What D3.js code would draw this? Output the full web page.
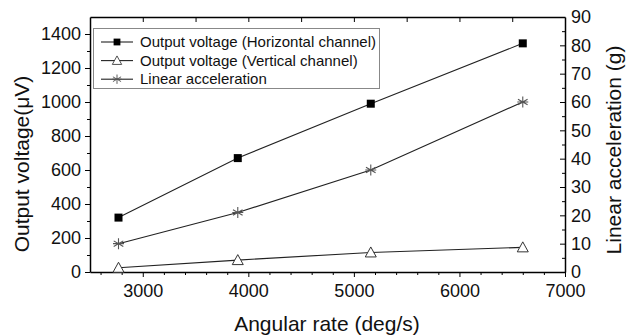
<!DOCTYPE html>
<html>
<head>
<meta charset="utf-8">
<script src="https://cdn.jsdelivr.net/npm/d3@7"></script>
<style>
  body { margin: 0; background: #fff; }
  svg, svg text { font-family: Arial, "Liberation Sans", sans-serif; }
  .axis path, .axis line { stroke: #000; }
  .axis text { fill: #111; font-family: Arial, "Liberation Sans", sans-serif; }
</style>
</head>
<body>
<div id="chart"></div>
<script>
// data
const angularRate = [2770, 3900, 5160, 6600];
const horizVoltage = [320, 670, 990, 1345];
const vertVoltage = [25, 70, 115, 145];
const linAccel = [10, 21, 36, 60];

const xTicks = [3000, 4000, 5000, 6000, 7000];
const yLeftTicks = [0, 200, 400, 600, 800, 1000, 1200, 1400];
const yRightTicks = [0, 10, 20, 30, 40, 50, 60, 70, 80, 90];
const legendLabels = ['Output voltage (Horizontal channel)', 'Output voltage (Vertical channel)', 'Linear acceleration'];

const width = 640, height = 336;
const margin = {top: 17, right: 75, bottom: 64, left: 90};

const svg = d3.select('#chart').append('svg')
  .attr('width', width)
  .attr('height', height);

const x = d3.scaleLinear().domain([2500, 7000]).range([margin.left, width - margin.right]);
const yL = d3.scaleLinear().domain([0, 1500]).range([height - margin.bottom, margin.top]);
const yR = d3.scaleLinear().domain([0, 90]).range([height - margin.bottom, margin.top]);

const fs = 18;

// bottom axis
const xMinor = d3.range(2600, 7001, 200).filter(v => v % 1000 !== 0);
svg.append('g').attr('class', 'axis')
  .attr('transform', 'translate(0,' + yL(0) + ')')
  .call(d3.axisBottom(x).tickValues(xMinor).tickSize(3).tickFormat(''))
  .call(g => g.select('.domain').remove());
svg.append('g').attr('class', 'axis')
  .attr('transform', 'translate(0,' + yL(0) + ')')
  .call(d3.axisBottom(x).tickValues(xTicks).tickSize(5).tickSizeOuter(0).tickPadding(7).tickFormat(d3.format('d')))
  .call(g => g.select('.domain').attr('stroke-width', 1.5))
  .selectAll('text').attr('font-size', fs);

// top axis (mirror, inward ticks)
svg.append('g').attr('class', 'axis')
  .attr('transform', 'translate(0,' + margin.top + ')')
  .call(d3.axisBottom(x).tickValues(d3.range(3000, 7000, 500)).tickSize(5).tickSizeOuter(0).tickFormat(''))
  .call(g => g.select('.domain').attr('stroke-width', 1.5));

// left axis
const yMinor = d3.range(100, 1500, 200);
svg.append('g').attr('class', 'axis')
  .attr('transform', 'translate(' + margin.left + ',0)')
  .call(d3.axisLeft(yL).tickValues(yMinor).tickSize(3).tickFormat(''))
  .call(g => g.select('.domain').remove());
svg.append('g').attr('class', 'axis')
  .attr('transform', 'translate(' + margin.left + ',0)')
  .call(d3.axisLeft(yL).tickValues(yLeftTicks).tickSize(5).tickSizeOuter(0).tickPadding(4).tickFormat(d3.format('d')))
  .call(g => g.select('.domain').attr('stroke-width', 1.5))
  .selectAll('text').attr('font-size', fs);

// right axis (inward ticks)
const xr = width - margin.right;
svg.append('g').attr('class', 'axis')
  .attr('transform', 'translate(' + xr + ',0)')
  .call(d3.axisLeft(yR).tickValues(d3.range(5, 90, 10)).tickSize(3).tickFormat(''))
  .call(g => g.select('.domain').remove());
const rAxis = svg.append('g').attr('class', 'axis')
  .attr('transform', 'translate(' + xr + ',0)')
  .call(d3.axisLeft(yR).tickValues(yRightTicks).tickSize(5).tickSizeOuter(0))
  .call(g => g.select('.domain').attr('stroke-width', 1.5));
rAxis.selectAll('text')
  .attr('font-size', fs)
  .attr('x', 6)
  .attr('text-anchor', 'start');

// axis titles
svg.append('text')
  .attr('transform', 'translate(22,164) rotate(-90)')
  .attr('text-anchor', 'middle')
  .attr('dy', '0.35em')
  .attr('font-size', 21)
  .attr('fill', '#111')
  .text('Output voltage(\u03BCV)');

svg.append('text')
  .attr('transform', 'translate(614,150) rotate(-90)')
  .attr('text-anchor', 'middle')
  .attr('dy', '0.35em')
  .attr('font-size', 21)
  .attr('fill', '#111')
  .text('Linear acceleration (g)');

svg.append('text')
  .attr('x', 327)
  .attr('y', 331)
  .attr('text-anchor', 'middle')
  .attr('font-size', 21)
  .attr('fill', '#111')
  .text('Angular rate (deg/s)');

// marker drawing helpers
function drawSquare(sel) {
  sel.append('rect').attr('x', -4).attr('y', -4).attr('width', 8).attr('height', 8).attr('fill', '#000');
}
function drawTriangle(sel) {
  sel.append('path').attr('d', 'M0,-5.5L5.5,4.5L-5.5,4.5Z').attr('fill', '#fff').attr('stroke', '#333').attr('stroke-width', 1);
}
function drawStar(sel) {
  sel.append('path')
    .attr('d', 'M0,-5.5V5.5M-4.8,-2.8L4.8,2.8M-4.8,2.8L4.8,-2.8M-5.5,0H5.5')
    .attr('stroke', '#555').attr('stroke-width', 1.1).attr('fill', 'none');
}

const series = [
  {vals: horizVoltage, y: yL, marker: drawSquare},
  {vals: vertVoltage, y: yL, marker: drawTriangle},
  {vals: linAccel, y: yR, marker: drawStar}
];

series.forEach(s => {
  const pts = angularRate.map((a, i) => [a, s.vals[i]]);
  svg.append('path')
    .datum(pts)
    .attr('fill', 'none')
    .attr('stroke', '#222')
    .attr('stroke-width', 1.1)
    .attr('d', d3.line().x(d => x(d[0])).y(d => s.y(d[1])));
  svg.selectAll(null)
    .data(pts)
    .enter().append('g')
      .attr('transform', d => 'translate(' + x(d[0]) + ',' + s.y(d[1]) + ')')
      .each(function() { s.marker(d3.select(this)); });
});

// legend
const legend = svg.append('g');
legend.append('rect')
  .attr('x', 93.5).attr('y', 28.5)
  .attr('width', 286).attr('height', 60)
  .attr('fill', '#fff').attr('stroke', '#888').attr('stroke-width', 1);

const markers = [drawSquare, drawTriangle, drawStar];
legendLabels.forEach((lab, i) => {
  const ly = 42 + i * 18.6;
  legend.append('line')
    .attr('x1', 101).attr('x2', 133).attr('y1', ly).attr('y2', ly)
    .attr('stroke', '#222').attr('stroke-width', 1.1);
  markers[i](legend.append('g').attr('transform', 'translate(117,' + ly + ') scale(0.85)'));
  legend.append('text')
    .attr('x', 140).attr('y', ly)
    .attr('dy', '0.35em')
    .attr('font-size', 15)
    .attr('fill', '#111')
    .text(lab);
});
</script>
</body>
</html>
